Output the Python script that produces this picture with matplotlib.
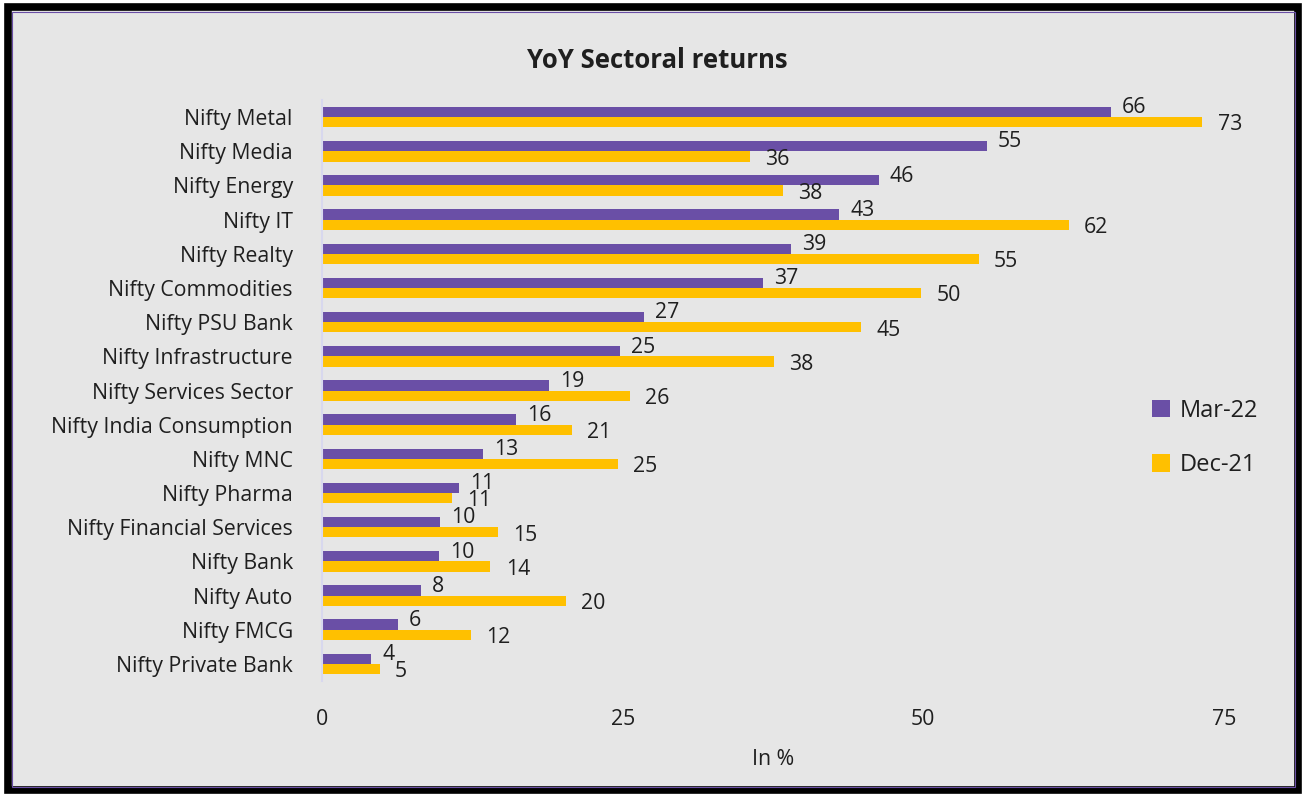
import matplotlib
matplotlib.use("Agg")
import matplotlib.pyplot as plt
from matplotlib.patches import Rectangle
import numpy as np

categories = ["Nifty Metal", "Nifty Media", "Nifty Energy", "Nifty IT", "Nifty Realty",
              "Nifty Commodities", "Nifty PSU Bank", "Nifty Infrastructure",
              "Nifty Services Sector", "Nifty India Consumption", "Nifty MNC",
              "Nifty Pharma", "Nifty Financial Services", "Nifty Bank", "Nifty Auto",
              "Nifty FMCG", "Nifty Private Bank"]
mar22 = [65.6, 55.3, 46.3, 43.0, 39.0, 36.7, 26.8, 24.8, 18.9, 16.1, 13.4, 11.4, 9.8, 9.7, 8.2, 6.3, 4.1]
dec21 = [73.2, 35.6, 38.3, 62.1, 54.6, 49.8, 44.8, 37.6, 25.6, 20.8, 24.6, 10.8, 14.6, 14.0, 20.3, 12.4, 4.8]
series_names = ["Mar-22", "Dec-21"]
xticks = [0, 25, 50, 75]

PURPLE = "#6a4fa6"
YELLOW = "#ffc000"
TEXT = "#1f1f1f"
BG = "#e6e6e6"
FS = 15.3

plt.rcParams['font.family'] = ['Open Sans', 'DejaVu Sans']

fig = plt.figure(figsize=(13.06, 7.96), dpi=100)
fig.patch.set_facecolor("white")
W, H = 1306, 796
# background panel
fig.patches.append(Rectangle((8 / W, 6 / H), 1 - 16 / W, 1 - 13 / H, transform=fig.transFigure,
                             facecolor=BG, edgecolor="black", linewidth=5.5, zorder=-2))
fig.patches.append(Rectangle((12 / W, 9 / H), 1 - 23 / W, 1 - 21 / H, transform=fig.transFigure,
                             facecolor="none", edgecolor="#6a4fa6", linewidth=0.8, zorder=-1))

ax = fig.add_axes([322 / W, 1 - 681 / H, (1224 - 322) / W, (681 - 100) / H])
ax.set_facecolor("none")
ax.set_zorder(2)

y = np.arange(len(categories))
h = 0.3
ax.barh(y - h / 2, mar22, height=h, color=PURPLE, label=series_names[0])
ax.barh(y + h / 2, dec21, height=h, color=YELLOW, label=series_names[1])

for yi, v in zip(y, mar22):
    ax.annotate(f"{v:.0f}", (v, yi - h / 2), xytext=(8, 3), textcoords="offset points",
                ha="left", va="center", fontsize=FS, color=TEXT)
for yi, v in zip(y, dec21):
    ax.annotate(f"{v:.0f}", (v, yi + h / 2), xytext=(11, -2), textcoords="offset points",
                ha="left", va="center", fontsize=FS, color=TEXT)

ax.set_ylim(len(categories) - 0.5, -0.5)
ax.set_xlim(0, 75)
ax.set_yticks(y)
ax.set_yticklabels(categories, fontsize=FS, color=TEXT)
ax.set_xticks(xticks)
ax.set_xticklabels([str(t) for t in xticks], fontsize=FS, color=TEXT)
ax.tick_params(axis="both", length=0)
ax.tick_params(axis="y", pad=21)
ax.tick_params(axis="x", pad=20)
for s in ["top", "right", "bottom"]:
    ax.spines[s].set_visible(False)
ax.spines["left"].set_color("#d8d8ee")
ax.spines["left"].set_linewidth(1.5)
ax.set_xlabel("In %", fontsize=FS, color=TEXT, labelpad=14)

fig.text(657 / W, 1 - 60 / H, "YoY Sectoral returns", ha="center", va="center",
         fontsize=18.5, fontweight="bold", color=TEXT)

leg = fig.legend(loc="center left", bbox_to_anchor=(1131 / W, 1 - 438 / H), frameon=False,
                 fontsize=17, handlelength=0.75, handleheight=0.75, labelspacing=1.3,
                 handletextpad=0.4, labelcolor=TEXT)

fig.savefig("out.png", dpi=100, facecolor=fig.get_facecolor())
